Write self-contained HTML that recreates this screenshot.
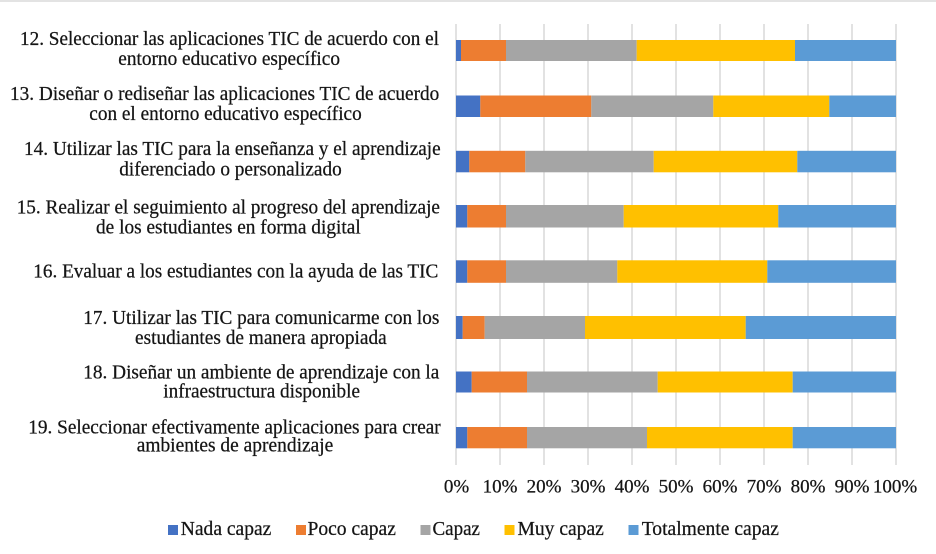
<!DOCTYPE html>
<html>
<head>
<meta charset="utf-8">
<style>
html,body{margin:0;padding:0;background:#fff;}
svg{display:block;}
text{font-family:"Liberation Serif","Times New Roman",serif;fill:#151515;stroke:#151515;stroke-width:0.25;}
</style>
</head>
<body>
<svg width="936" height="554" viewBox="0 0 936 554" xmlns="http://www.w3.org/2000/svg">
<rect x="0" y="0" width="936" height="554" fill="#ffffff"/>
<rect x="0" y="0" width="936" height="2" fill="#e3e3e3"/>

<!-- gridlines -->
<g stroke="#d9d9d9" stroke-width="1.5">
<line x1="456" y1="24" x2="456" y2="465"/>
<line x1="500" y1="24" x2="500" y2="465"/>
<line x1="544" y1="24" x2="544" y2="465"/>
<line x1="588" y1="24" x2="588" y2="465"/>
<line x1="632" y1="24" x2="632" y2="465"/>
<line x1="676" y1="24" x2="676" y2="465"/>
<line x1="720" y1="24" x2="720" y2="465"/>
<line x1="764" y1="24" x2="764" y2="465"/>
<line x1="808" y1="24" x2="808" y2="465"/>
<line x1="852" y1="24" x2="852" y2="465"/>
<line x1="896" y1="24" x2="896" y2="465"/>
</g>

<!-- bars -->
<g>
<rect x="456" y="40" width="5" height="21" fill="#4472C4"/>
<rect x="461" y="40" width="45" height="21" fill="#ED7D31"/>
<rect x="506" y="40" width="130.7" height="21" fill="#A5A5A5"/>
<rect x="636.7" y="40" width="158.3" height="21" fill="#FFC000"/>
<rect x="795" y="40" width="101" height="21" fill="#5B9BD5"/>

<rect x="456" y="95.5" width="24.3" height="21.5" fill="#4472C4"/>
<rect x="480.3" y="95.5" width="111" height="21.5" fill="#ED7D31"/>
<rect x="591.3" y="95.5" width="122" height="21.5" fill="#A5A5A5"/>
<rect x="713.3" y="95.5" width="116" height="21.5" fill="#FFC000"/>
<rect x="829.3" y="95.5" width="66.7" height="21.5" fill="#5B9BD5"/>

<rect x="456" y="150.8" width="13.3" height="21.5" fill="#4472C4"/>
<rect x="469.3" y="150.8" width="56" height="21.5" fill="#ED7D31"/>
<rect x="525.3" y="150.8" width="128.4" height="21.5" fill="#A5A5A5"/>
<rect x="653.7" y="150.8" width="143.6" height="21.5" fill="#FFC000"/>
<rect x="797.3" y="150.8" width="98.7" height="21.5" fill="#5B9BD5"/>

<rect x="456" y="205" width="11.3" height="22.5" fill="#4472C4"/>
<rect x="467.3" y="205" width="38.7" height="22.5" fill="#ED7D31"/>
<rect x="506" y="205" width="117.7" height="22.5" fill="#A5A5A5"/>
<rect x="623.7" y="205" width="154.6" height="22.5" fill="#FFC000"/>
<rect x="778.3" y="205" width="117.7" height="22.5" fill="#5B9BD5"/>

<rect x="456" y="260.3" width="11.3" height="22.5" fill="#4472C4"/>
<rect x="467.3" y="260.3" width="38.7" height="22.5" fill="#ED7D31"/>
<rect x="506" y="260.3" width="111.3" height="22.5" fill="#A5A5A5"/>
<rect x="617.3" y="260.3" width="150" height="22.5" fill="#FFC000"/>
<rect x="767.3" y="260.3" width="128.7" height="22.5" fill="#5B9BD5"/>

<rect x="456" y="316" width="6.7" height="23" fill="#4472C4"/>
<rect x="462.7" y="316" width="22" height="23" fill="#ED7D31"/>
<rect x="484.7" y="316" width="100.3" height="23" fill="#A5A5A5"/>
<rect x="585" y="316" width="160.7" height="23" fill="#FFC000"/>
<rect x="745.7" y="316" width="150.3" height="23" fill="#5B9BD5"/>

<rect x="456" y="371.5" width="15.7" height="21" fill="#4472C4"/>
<rect x="471.7" y="371.5" width="55.3" height="21" fill="#ED7D31"/>
<rect x="527" y="371.5" width="130.7" height="21" fill="#A5A5A5"/>
<rect x="657.7" y="371.5" width="135" height="21" fill="#FFC000"/>
<rect x="792.7" y="371.5" width="103.3" height="21" fill="#5B9BD5"/>

<rect x="456" y="427" width="11.3" height="21.3" fill="#4472C4"/>
<rect x="467.3" y="427" width="59.7" height="21.3" fill="#ED7D31"/>
<rect x="527" y="427" width="120" height="21.3" fill="#A5A5A5"/>
<rect x="647" y="427" width="145.7" height="21.3" fill="#FFC000"/>
<rect x="792.7" y="427" width="103.3" height="21.3" fill="#5B9BD5"/>
</g>

<!-- category labels -->
<g font-size="19.5">
<text x="20" y="45" textLength="419" lengthAdjust="spacingAndGlyphs">12. Seleccionar las aplicaciones TIC de acuerdo con el</text>
<text x="118.3" y="65" textLength="221.7" lengthAdjust="spacingAndGlyphs">entorno educativo específico</text>

<text x="10" y="100" textLength="429.3" lengthAdjust="spacingAndGlyphs">13. Diseñar o rediseñar las aplicaciones TIC de acuerdo</text>
<text x="89.3" y="120" textLength="272.4" lengthAdjust="spacingAndGlyphs">con el entorno educativo específico</text>

<text x="24" y="155" textLength="416.7" lengthAdjust="spacingAndGlyphs">14. Utilizar las TIC para la enseñanza y el aprendizaje</text>
<text x="119.3" y="175.5" textLength="222.4" lengthAdjust="spacingAndGlyphs">diferenciado o personalizado</text>

<text x="16.7" y="213.3" textLength="423.3" lengthAdjust="spacingAndGlyphs">15. Realizar el seguimiento al progreso del aprendizaje</text>
<text x="96" y="233.3" textLength="264.7" lengthAdjust="spacingAndGlyphs">de los estudiantes en forma digital</text>

<text x="33.3" y="277.3" textLength="405" lengthAdjust="spacingAndGlyphs">16. Evaluar a los estudiantes con la ayuda de las TIC</text>

<text x="83.3" y="324" textLength="356" lengthAdjust="spacingAndGlyphs">17. Utilizar las TIC para comunicarme con los</text>
<text x="135" y="344" textLength="251.7" lengthAdjust="spacingAndGlyphs">estudiantes de manera apropiada</text>

<text x="83.3" y="378.3" textLength="356" lengthAdjust="spacingAndGlyphs">18. Diseñar un ambiente de aprendizaje con la</text>
<text x="163.3" y="397.7" textLength="196.7" lengthAdjust="spacingAndGlyphs">infraestructura disponible</text>

<text x="28.3" y="433.3" textLength="412.4" lengthAdjust="spacingAndGlyphs">19. Seleccionar efectivamente aplicaciones para crear</text>
<text x="136.7" y="451.7" textLength="196.6" lengthAdjust="spacingAndGlyphs">ambientes de aprendizaje</text>
</g>

<!-- x-axis labels -->
<g font-size="19" text-anchor="middle">
<text x="456.5" y="492.5">0%</text>
<text x="500" y="492.5">10%</text>
<text x="544" y="492.5">20%</text>
<text x="588" y="492.5">30%</text>
<text x="632" y="492.5">40%</text>
<text x="676" y="492.5">50%</text>
<text x="720" y="492.5">60%</text>
<text x="764" y="492.5">70%</text>
<text x="808" y="492.5">80%</text>
<text x="852" y="492.5">90%</text>
<text x="895" y="492.5">100%</text>
</g>

<!-- legend -->
<rect x="168" y="525" width="10" height="10" fill="#4472C4"/>
<rect x="296" y="525" width="10" height="10" fill="#ED7D31"/>
<rect x="420.5" y="525" width="10" height="10" fill="#A5A5A5"/>
<rect x="504.5" y="525" width="10" height="10" fill="#FFC000"/>
<rect x="628.5" y="525" width="10" height="10" fill="#5B9BD5"/>
<g font-size="19.5">
<text x="180.8" y="535" textLength="90.5" lengthAdjust="spacingAndGlyphs">Nada capaz</text>
<text x="307.5" y="535" textLength="88.4" lengthAdjust="spacingAndGlyphs">Poco capaz</text>
<text x="432.5" y="535" textLength="47.5" lengthAdjust="spacingAndGlyphs">Capaz</text>
<text x="517.5" y="535" textLength="86.3" lengthAdjust="spacingAndGlyphs">Muy capaz</text>
<text x="641.7" y="535" textLength="137.2" lengthAdjust="spacingAndGlyphs">Totalmente capaz</text>
</g>
</svg>
</body>
</html>
